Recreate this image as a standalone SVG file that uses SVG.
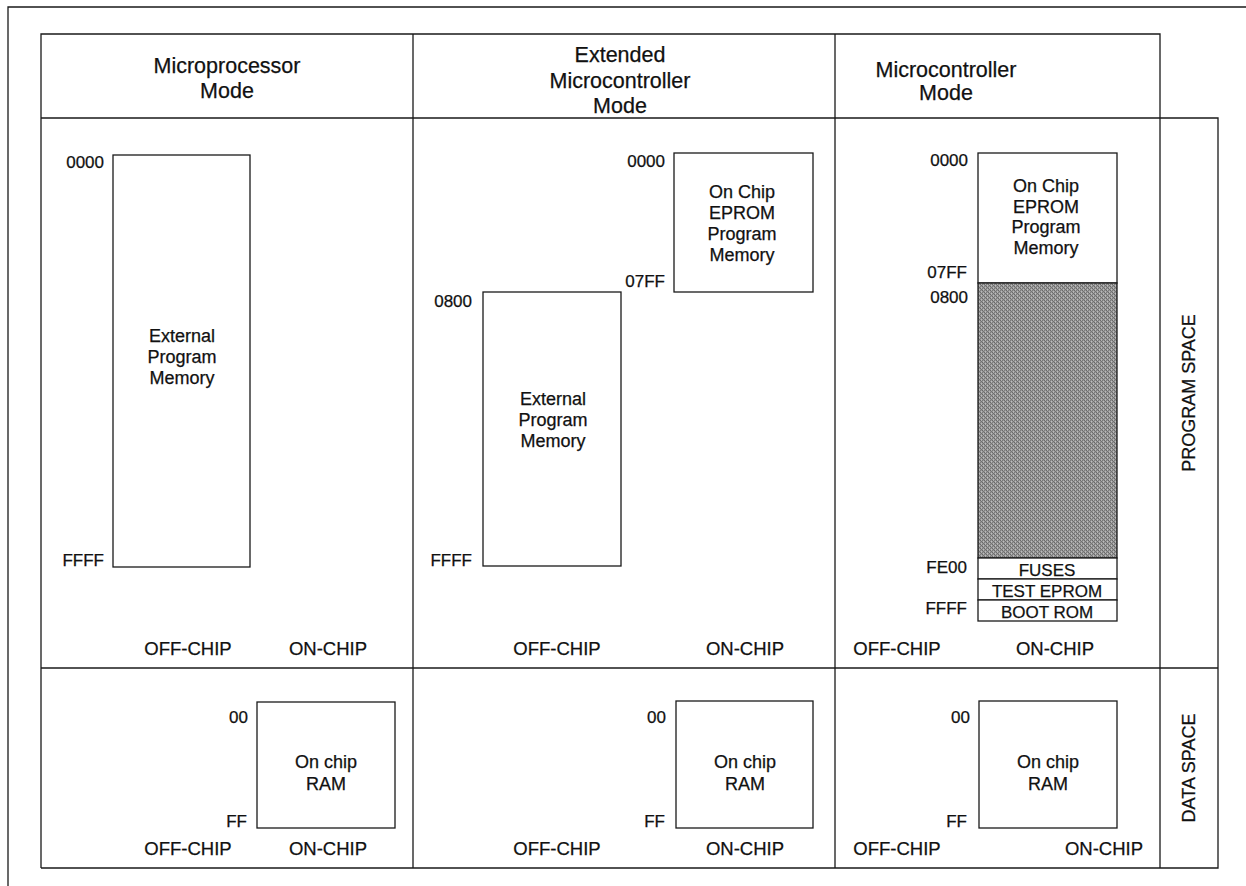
<svg xmlns="http://www.w3.org/2000/svg" width="1246" height="886" viewBox="0 0 1246 886">
<defs>
<pattern id="dither" width="4" height="4" patternUnits="userSpaceOnUse">
<rect width="4" height="4" fill="#969696"/>
<rect x="0" y="0" width="1" height="1" fill="#6a6a6a"/>
<rect x="2" y="0" width="1" height="1" fill="#7a7a7a"/>
<rect x="1" y="1" width="1" height="1" fill="#707070"/>
<rect x="3" y="1" width="1" height="1" fill="#bdbdbd"/>
<rect x="0" y="2" width="1" height="1" fill="#7c7c7c"/>
<rect x="2" y="2" width="1" height="1" fill="#686868"/>
<rect x="1" y="3" width="1" height="1" fill="#b8b8b8"/>
<rect x="3" y="3" width="1" height="1" fill="#747474"/>
<rect x="1" y="0" width="1" height="1" fill="#b0b0b0"/>
<rect x="3" y="2" width="1" height="1" fill="#ababab"/>
</pattern>
</defs>
<style>
.ln{stroke:#1a1a1a;stroke-width:1.3;fill:none}
.bx{stroke:#1a1a1a;stroke-width:1.3;fill:#fff}
text{font-family:"Liberation Sans",Arial,Helvetica,sans-serif;fill:#111;stroke:#111;stroke-width:0.25}
.hd{font-size:21.5px;text-anchor:middle}
.bt{font-size:18px;text-anchor:middle}
.ad{font-size:17px;text-anchor:end}
.oc{font-size:18.5px;text-anchor:middle}
.rw{font-size:17px;text-anchor:middle}
.sp{font-size:18px;text-anchor:middle}
</style>
<rect width="1246" height="886" fill="#fff"/>

<g id="frame">
<path class="ln" d="M8 886 L8 7 L1246 7"/>
<path class="ln" d="M41 868 L41 34 L1160 34 L1160 868"/>
<path class="ln" d="M41 118 L1218 118 L1218 868 L41 868"/>
<path class="ln" d="M413 34 L413 868 M835 34 L835 868"/>
<path class="ln" d="M41 668 L1218 668"/>
</g>

<g id="headers">
<text class="hd" x="227" y="73">Microprocessor</text>
<text class="hd" x="227" y="98">Mode</text>
<text class="hd" x="620" y="62">Extended</text>
<text class="hd" x="620" y="88">Microcontroller</text>
<text class="hd" x="620" y="113">Mode</text>
<text class="hd" x="946" y="77">Microcontroller</text>
<text class="hd" x="946" y="100">Mode</text>
</g>

<g id="side-labels">
<text class="sp" transform="translate(1195 393) rotate(-90)">PROGRAM SPACE</text>
<text class="sp" transform="translate(1195 768) rotate(-90)">DATA SPACE</text>
</g>

<g id="mp-external">
<rect class="bx" x="113" y="155" width="137" height="412"/>
<text class="bt" x="182" y="342">External</text>
<text class="bt" x="182" y="363">Program</text>
<text class="bt" x="182" y="384">Memory</text>
<text class="ad" x="104" y="168">0000</text>
<text class="ad" x="104" y="566">FFFF</text>
</g>
<g id="mp-labels">
<text class="oc" x="188" y="655">OFF-CHIP</text>
<text class="oc" x="328" y="655">ON-CHIP</text>
</g>

<g id="emc-eprom">
<rect class="bx" x="674" y="153" width="139" height="139"/>
<text class="bt" x="742" y="198">On Chip</text>
<text class="bt" x="742" y="219">EPROM</text>
<text class="bt" x="742" y="240">Program</text>
<text class="bt" x="742" y="261">Memory</text>
<text class="ad" x="665" y="167">0000</text>
<text class="ad" x="665" y="287">07FF</text>
</g>
<g id="emc-external">
<rect class="bx" x="483" y="292" width="138" height="274"/>
<text class="bt" x="553" y="405">External</text>
<text class="bt" x="553" y="426">Program</text>
<text class="bt" x="553" y="447">Memory</text>
<text class="ad" x="472" y="307">0800</text>
<text class="ad" x="472" y="566">FFFF</text>
</g>
<g id="emc-labels">
<text class="oc" x="557" y="655">OFF-CHIP</text>
<text class="oc" x="745" y="655">ON-CHIP</text>
</g>

<g id="mc-eprom">
<rect class="bx" x="978" y="153" width="139" height="130"/>
<text class="bt" x="1046" y="192">On Chip</text>
<text class="bt" x="1046" y="213">EPROM</text>
<text class="bt" x="1046" y="233">Program</text>
<text class="bt" x="1046" y="254">Memory</text>
<text class="ad" x="968" y="166">0000</text>
<text class="ad" x="967" y="278">07FF</text>
</g>
<g id="mc-unused">
<rect x="978" y="283" width="139" height="275" fill="url(#dither)" stroke="#1a1a1a" stroke-width="1.3"/>
<text class="ad" x="968" y="303">0800</text>
</g>
<g id="mc-fuses">
<rect class="bx" x="978" y="558" width="139" height="21"/>
<text class="rw" x="1047" y="576">FUSES</text>
<text class="ad" x="967" y="573">FE00</text>
</g>
<g id="mc-test">
<rect class="bx" x="978" y="579" width="139" height="21"/>
<text class="rw" x="1047" y="597">TEST EPROM</text>
</g>
<g id="mc-boot">
<rect class="bx" x="978" y="600" width="139" height="21"/>
<text class="rw" x="1047" y="618">BOOT ROM</text>
<text class="ad" x="967" y="614">FFFF</text>
</g>
<g id="mc-labels">
<text class="oc" x="897" y="655">OFF-CHIP</text>
<text class="oc" x="1055" y="655">ON-CHIP</text>
</g>

<g id="mp-ram">
<rect class="bx" x="257" y="702" width="138" height="126"/>
<text class="bt" x="326" y="768">On chip</text>
<text class="bt" x="326" y="790">RAM</text>
<text class="ad" x="248" y="723">00</text>
<text class="ad" x="247" y="827">FF</text>
<text class="oc" x="188" y="855">OFF-CHIP</text>
<text class="oc" x="328" y="855">ON-CHIP</text>
</g>
<g id="emc-ram">
<rect class="bx" x="676" y="701" width="137" height="127"/>
<text class="bt" x="745" y="768">On chip</text>
<text class="bt" x="745" y="790">RAM</text>
<text class="ad" x="666" y="723">00</text>
<text class="ad" x="665" y="827">FF</text>
<text class="oc" x="557" y="855">OFF-CHIP</text>
<text class="oc" x="745" y="855">ON-CHIP</text>
</g>
<g id="mc-ram">
<rect class="bx" x="979" y="701" width="138" height="127"/>
<text class="bt" x="1048" y="768">On chip</text>
<text class="bt" x="1048" y="790">RAM</text>
<text class="ad" x="970" y="723">00</text>
<text class="ad" x="967" y="827">FF</text>
<text class="oc" x="897" y="855">OFF-CHIP</text>
<text class="oc" x="1104" y="855">ON-CHIP</text>
</g>
<g id="connectors"></g>
</svg>
